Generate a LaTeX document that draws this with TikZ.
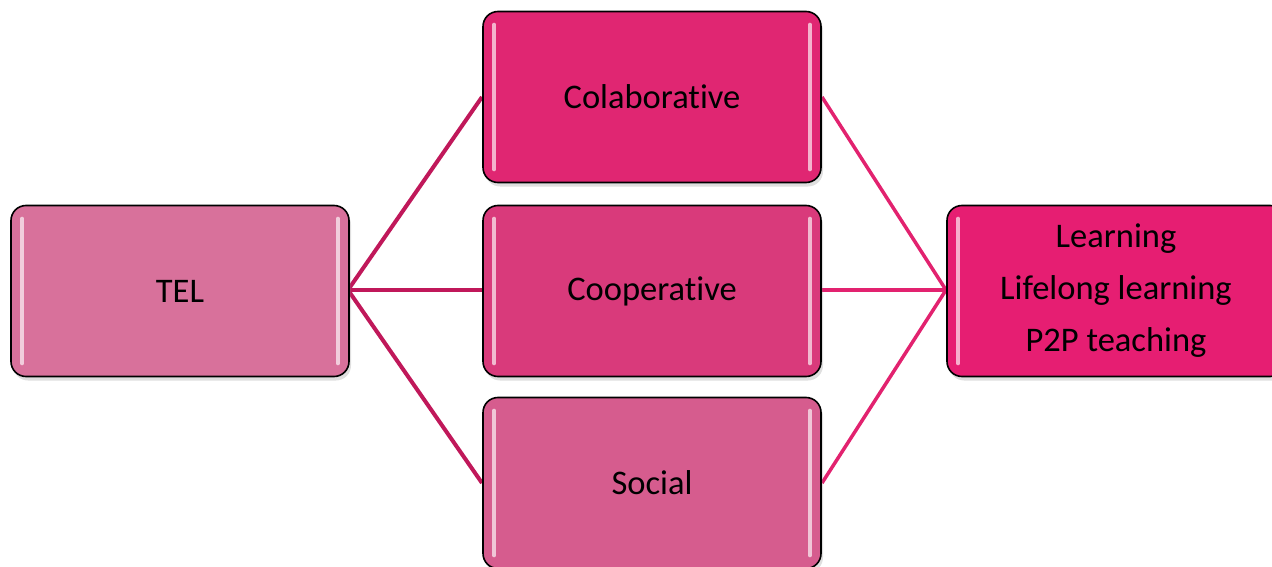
\documentclass[tikz,border=0pt]{standalone}
\usepackage{fontspec}
\setmainfont[Ligatures=NoCommon]{Carlito}
\usetikzlibrary{shadows}
\definecolor{telc}{HTML}{D8719B}
\definecolor{colc}{HTML}{E02672}
\definecolor{cooc}{HTML}{D93A7B}
\definecolor{socc}{HTML}{D65C8E}
\definecolor{resc}{HTML}{E61E72}
\definecolor{lineL}{HTML}{C0185A}
\definecolor{lineR}{HTML}{E2226F}
\tikzset{
  box/.style={draw=black, line width=1.6pt, rounded corners=15pt,
    minimum width=338pt, minimum height=171pt, inner sep=0pt,
    font=\fontsize{34.5}{52}\selectfont, align=center, text=black,
    drop shadow={opacity=0.25, shadow xshift=2pt, shadow yshift=-4pt}},
  linkL/.style={draw=lineL, line width=4pt},
  linkR/.style={draw=lineR, line width=3.5pt},
  gloss/.style={draw=white, line width=4pt, line cap=round, opacity=0.65}
}
\begin{document}
\begin{tikzpicture}[x=1pt,y=-1pt]
\useasboundingbox (0,0) rectangle (1272,567);
\clip (0,0) rectangle (1272,567);
% connectors behind boxes
\coordinate (telE) at (348,290);
\coordinate (colW) at (482,97);
\coordinate (cooW) at (482,290);
\coordinate (socW) at (482,483);
\coordinate (colE) at (822,97);
\coordinate (cooE) at (822,290);
\coordinate (socE) at (822,483);
\coordinate (resW) at (946,290);
\draw[linkL] (telE) -- (colW);
\draw[linkL] (telE) -- (cooW);
\draw[linkL] (telE) -- (socW);
\draw[linkR] (colE) -- (resW);
\draw[linkR] (cooE) -- (resW);
\draw[linkR] (socE) -- (resW);
% boxes
\node[box, fill=telc] (tel) at (180,291) {TEL};
\node[box, fill=colc] (col) at (652,97) {Colaborative};
\node[box, fill=cooc] (coo) at (652,291) {Cooperative};
\node[box, fill=socc] (soc) at (652,483) {Social};
\node[box, fill=resc] (res) at (1116,291) {Learning\\Lifelong learning\\P2P teaching};
% gloss highlights
\foreach \n in {tel,col,coo,soc,res}{
  \draw[gloss] ([xshift=12pt,yshift=-14pt]\n.north west) -- ([xshift=12pt,yshift=14pt]\n.south west);
  \draw[gloss] ([xshift=-12pt,yshift=-14pt]\n.north east) -- ([xshift=-12pt,yshift=14pt]\n.south east);
}
\end{tikzpicture}
\end{document}
